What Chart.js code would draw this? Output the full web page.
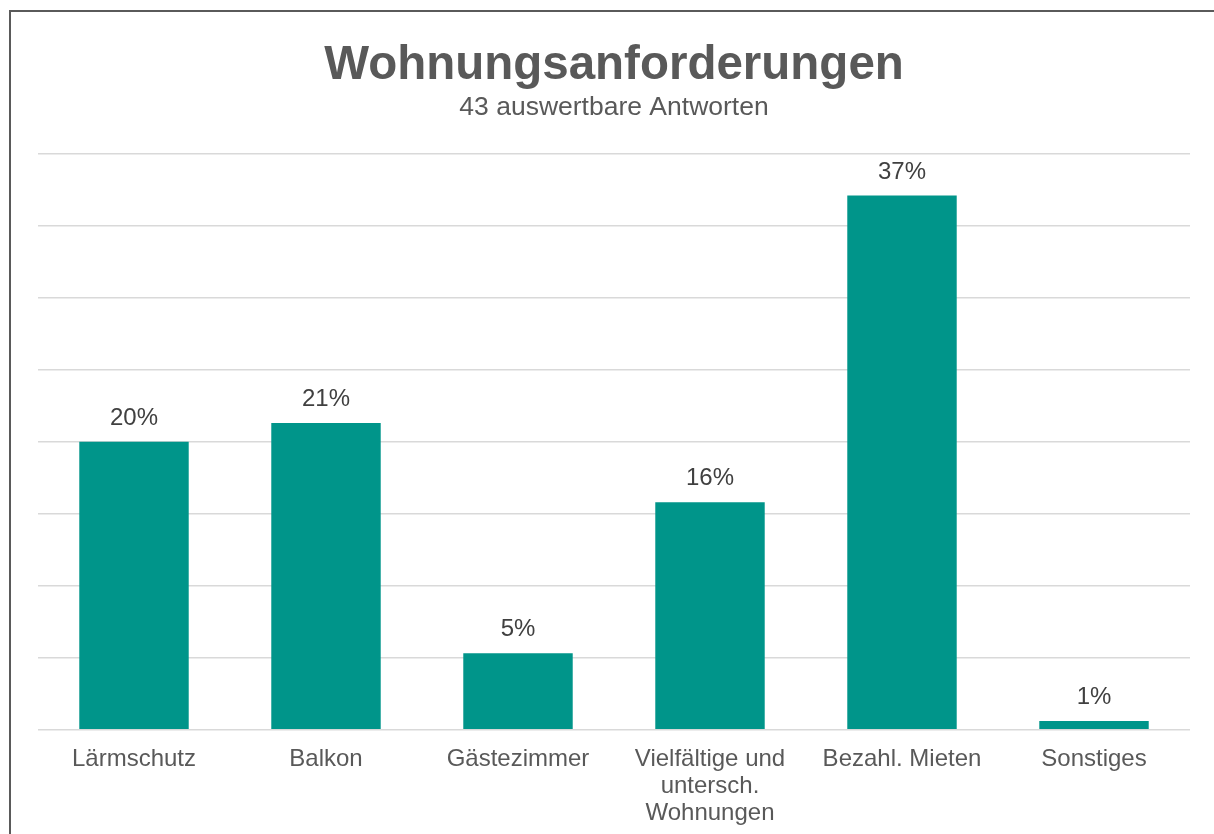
<!DOCTYPE html>
<html lang="de">
<head>
  <meta charset="UTF-8">
  <title>Wohnungsanforderungen</title>
  <script src="https://cdn.jsdelivr.net/npm/chart.js"></script>
  <style>
    html, body { margin: 0; padding: 0; background: #fff; overflow: hidden; }
    #frame {
      position: absolute; left: 9px; top: 10px;
      border-left: 2px solid #5a5a5a; border-top: 2px solid #5a5a5a;
      width: 1206px; height: 830px;
    }
  </style>
</head>
<body>
  <div id="frame"><canvas id="chart" width="1206" height="822"></canvas></div>

  <script>
    const categories = ["Lärmschutz", "Balkon", "Gästezimmer", ["Vielfältige und", "untersch.", "Wohnungen"], "Bezahl. Mieten", "Sonstiges"];
    const shares = [20.0, 21.3, 5.3, 15.8, 37.1, 0.6];
    const yTicks = [0, 5, 10, 15, 20, 25, 30, 35, 40];

    // Prozentwerte über den Balken
    const valueLabels = {
      id: "valueLabels",
      afterDatasetsDraw(chart) {
        const ctx = chart.ctx;
        const meta = chart.getDatasetMeta(0);
        ctx.save();
        ctx.font = "24px 'Liberation Sans', Arial, sans-serif";
        ctx.fillStyle = "#404040";
        ctx.textAlign = "center";
        ctx.textBaseline = "alphabetic";
        meta.data.forEach((bar, i) => {
          ctx.fillText(Math.round(shares[i]) + "%", bar.x, bar.y - 17);
        });
        ctx.restore();
      }
    };

    new Chart(document.getElementById("chart").getContext("2d"), {
      type: "bar",
      data: {
        labels: categories,
        datasets: [{
          data: shares,
          backgroundColor: "#00958a",
          barPercentage: 1,
          categoryPercentage: 0.57
        }]
      },
      options: {
        responsive: false,
        animation: false,
        layout: { padding: { left: 27, right: 27, top: 0, bottom: -1 } },
        plugins: {
          legend: { display: false },
          tooltip: { enabled: false },
          title: {
            display: true,
            text: "Wohnungsanforderungen",
            color: "#595959",
            font: { family: "'Liberation Sans', Arial, sans-serif", size: 47.5, weight: "bold" },
            padding: { top: 25, bottom: 0 }
          },
          subtitle: {
            display: true,
            text: "43 auswertbare Antworten",
            color: "#595959",
            font: { family: "'Liberation Sans', Arial, sans-serif", size: 26.5 },
            padding: { top: -2, bottom: 30 }
          }
        },
        scales: {
          y: {
            min: 0,
            max: 40,
            afterBuildTicks: axis => { axis.ticks = yTicks.map(v => ({ value: v })); },
            ticks: { display: false },
            border: { display: false },
            grid: { color: "#d9d9d9", lineWidth: 1.5, drawTicks: false }
          },
          x: {
            border: { display: false },
            grid: { display: false },
            ticks: {
              color: "#595959",
              padding: 8,
              maxRotation: 0,
              autoSkip: false,
              font: { family: "'Liberation Sans', Arial, sans-serif", size: 24, lineHeight: 1.13 }
            }
          }
        }
      },
      plugins: [valueLabels]
    });
  </script>
</body>
</html>
